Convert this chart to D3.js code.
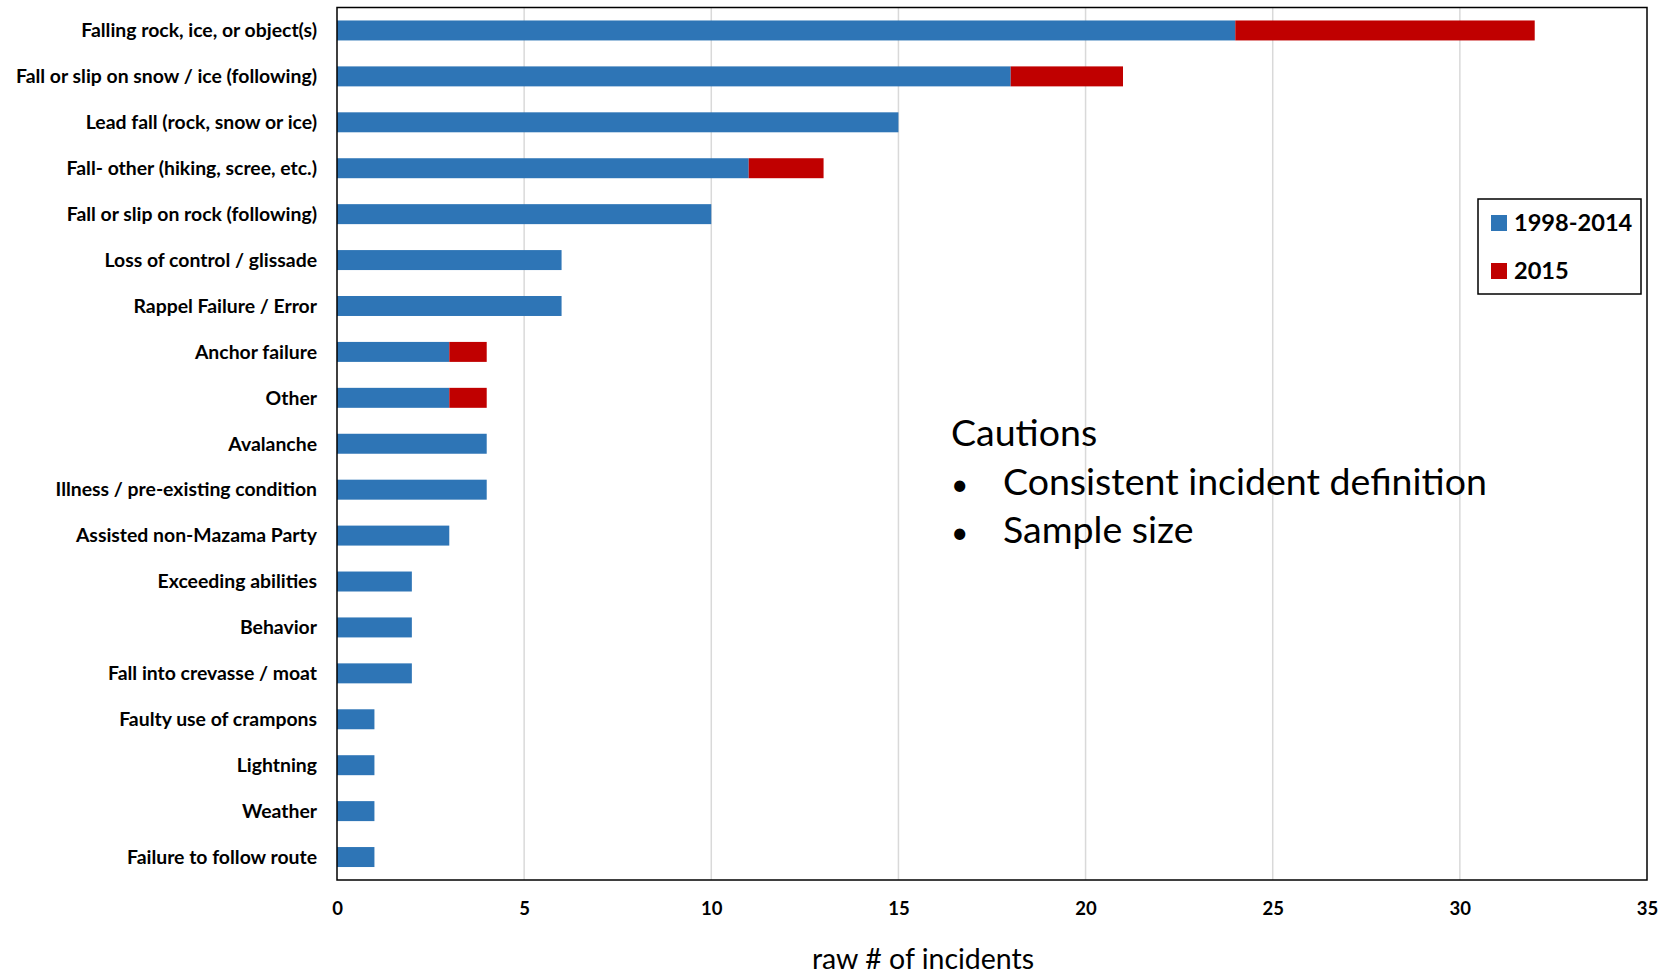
<!DOCTYPE html>
<html><head><meta charset="utf-8">
<script src="https://cdn.jsdelivr.net/npm/d3@7"></script>
<style>body{margin:0;background:#fff} svg{display:block}</style>
</head><body><svg id="chart" width="1664" height="979"></svg>
<script>
const categories = [
  "Falling rock, ice, or object(s)",
  "Fall or slip on snow / ice (following)",
  "Lead fall (rock, snow or ice)",
  "Fall- other (hiking, scree, etc.)",
  "Fall or slip on rock (following)",
  "Loss of control / glissade",
  "Rappel Failure / Error",
  "Anchor failure",
  "Other",
  "Avalanche",
  "Illness / pre-existing condition",
  "Assisted non-Mazama Party",
  "Exceeding abilities",
  "Behavior",
  "Fall into crevasse / moat",
  "Faulty use of crampons",
  "Lightning",
  "Weather",
  "Failure to follow route"
];
const values1998to2014 = [24, 18, 15, 11, 10, 6, 6, 3, 3, 4, 4, 3, 2, 2, 2, 1, 1, 1, 1];
const values2015 =       [ 8,  3,  0,  2,  0, 0, 0, 1, 1, 0, 0, 0, 0, 0, 0, 0, 0, 0, 0];
const seriesNames = ["1998-2014", "2015"];
const seriesColors = ["#2E75B6", "#C00000"];
const xTicks = [0, 5, 10, 15, 20, 25, 30, 35];
const xTitle = "raw # of incidents";
const cautionTitle = "Cautions";
const cautionItems = ["Consistent incident definition", "Sample size"];

const FONT = "Lato, 'Open Sans', sans-serif";
const svg = d3.select("#chart");
const L = 337, R = 1647, T = 7.5, B = 880;

const x = d3.scaleLinear().domain([0, 35]).range([L, R]);
const y = d3.scaleBand().domain(categories).range([T, B]).paddingInner(0.565).paddingOuter(0.2825);

const rows = categories.map((c, i) => ({c, a: values1998to2014[i], b: values2015[i]}));

// gridlines
svg.append("g").selectAll("line").data(xTicks.filter(t => t > 0 && t < 35)).join("line")
  .attr("x1", d => x(d)).attr("x2", d => x(d)).attr("y1", T).attr("y2", B)
  .attr("stroke", "#d9d9d9").attr("stroke-width", 1.5);

// bars
const stack = d3.stack().keys(["a", "b"])(rows);
svg.append("g").selectAll("g").data(stack).join("g")
  .attr("fill", (d, i) => seriesColors[i])
  .selectAll("rect").data(d => d.filter(p => p[1] > p[0])).join("rect")
  .attr("x", d => x(d[0])).attr("width", d => x(d[1]) - x(d[0]))
  .attr("y", d => y(d.data.c)).attr("height", y.bandwidth());

// frame
svg.append("rect").attr("x", L).attr("y", T).attr("width", R - L).attr("height", B - T)
  .attr("fill", "none").attr("stroke", "#000").attr("stroke-width", 1.5);

// y labels
svg.append("g").selectAll("text").data(categories).join("text")
  .attr("x", L - 20).attr("y", d => y(d) + y.bandwidth() / 2)
  .attr("dy", "0.35em").attr("text-anchor", "end")
  .attr("font-family", FONT).attr("font-weight", "bold").attr("font-size", 19.4)
  .attr("fill", "#000").text(d => d);

// x tick labels
const xAxis = d3.axisBottom(x).tickValues(xTicks).tickSize(0).tickPadding(0);
const gx = svg.append("g").attr("transform", `translate(0,${B})`).call(xAxis);
gx.select(".domain").remove();
gx.selectAll("text").attr("y", 29).attr("dy", "0.35em")
  .attr("font-family", FONT).attr("font-weight", "bold").attr("font-size", 18.5).attr("fill", "#000");

// x title
svg.append("text").attr("x", 923).attr("y", 969).attr("text-anchor", "middle")
  .attr("font-family", FONT).attr("font-size", 28.5).attr("fill", "#000").text(xTitle);

// legend
const lg = svg.append("g");
lg.append("rect").attr("x", 1478).attr("y", 199).attr("width", 163).attr("height", 95)
  .attr("fill", "#fff").attr("stroke", "#000").attr("stroke-width", 1.5);
seriesNames.forEach((n, i) => {
  const cy = 223 + i * 48;
  lg.append("rect").attr("x", 1491).attr("y", cy - 8).attr("width", 16).attr("height", 16).attr("fill", seriesColors[i]);
  lg.append("text").attr("x", 1514).attr("y", cy).attr("dy", "0.35em")
    .attr("font-family", FONT).attr("font-weight", "bold").attr("font-size", 23.6).attr("fill", "#000").text(n);
});

// cautions annotation
const ct = svg.append("g").attr("font-family", FONT).attr("font-size", 37.5).attr("fill", "#000");
ct.append("text").attr("x", 951).attr("y", 446).text(cautionTitle);
cautionItems.forEach((t, i) => {
  const by = 494.5 + i * 48.5;
  ct.append("text").attr("x", 951).attr("y", by).attr("font-size", 30).text("\u2022");
  ct.append("text").attr("x", 1003).attr("y", by).text(t);
});
</script>
</body></html>
